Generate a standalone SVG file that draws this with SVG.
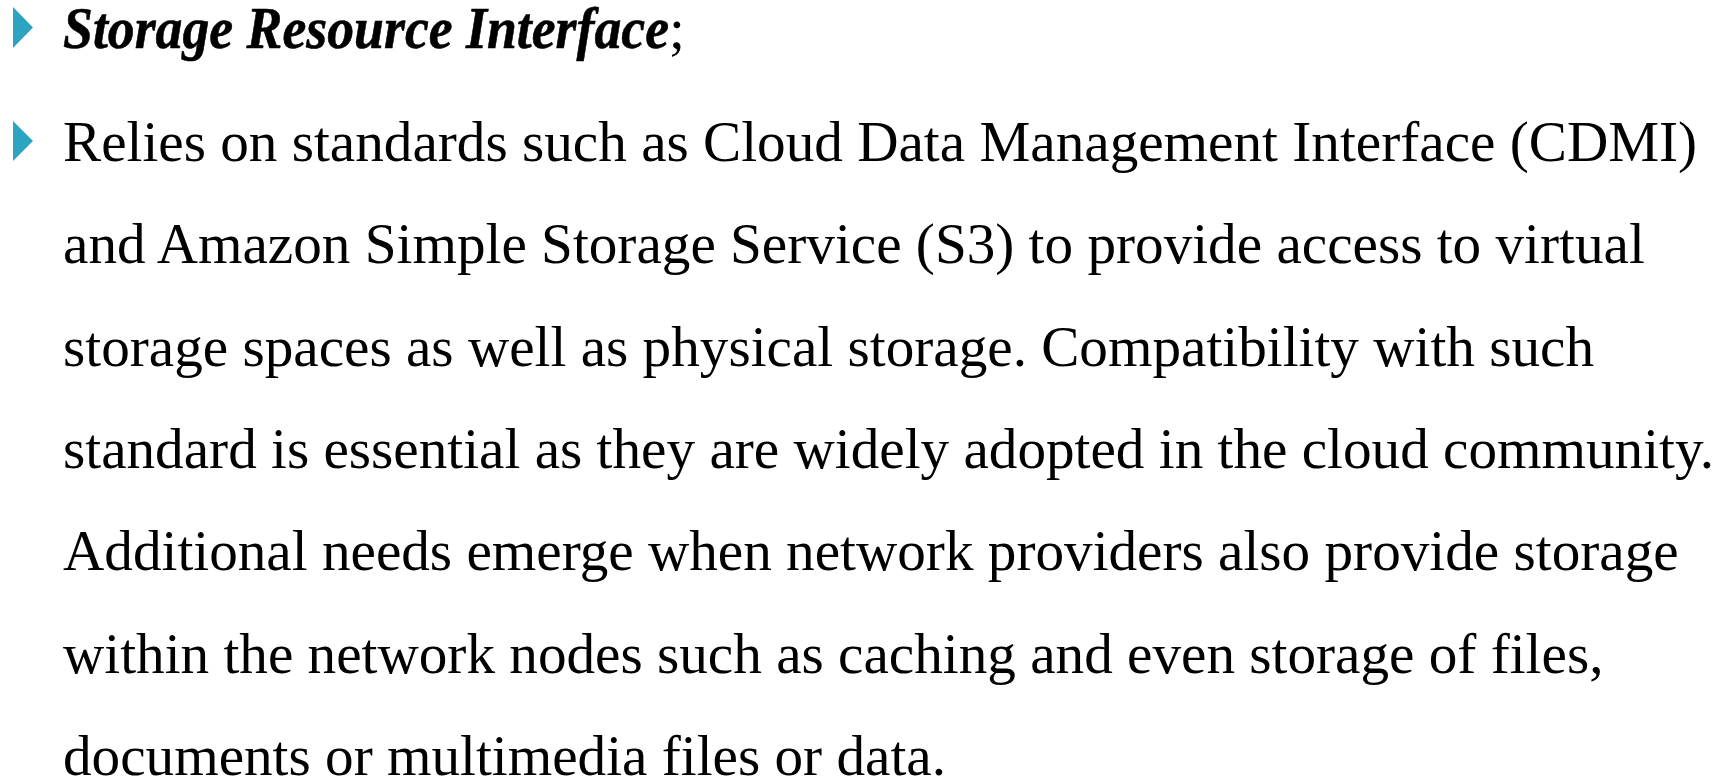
<svg xmlns="http://www.w3.org/2000/svg" width="1734" height="780" viewBox="0 0 1734 780">
  <style>
    .bullet { fill: #2ca3c1; }
    .body { font-family: "Liberation Serif", "Times New Roman", serif; font-size: 57.2px; fill: #000000; }
    .title { font-family: "Liberation Serif", "Times New Roman", serif; font-size: 60px; font-weight: bold; font-style: italic; fill: #000000; stroke: #000000; stroke-width: 0.6px; }
  </style>
  <rect width="1734" height="780" fill="#ffffff"/>

  <!-- first bullet: heading -->
  <g id="item-heading">
    <polygon class="bullet" points="13,7 33,27.5 13,48"/>
    <text class="title" x="63" y="48" textLength="606" lengthAdjust="spacingAndGlyphs">Storage Resource Interface</text>
    <text class="body" x="669" y="48">;</text>
  </g>

  <!-- second bullet: description paragraph -->
  <g id="item-description">
    <polygon class="bullet" points="13,121 33,141 13,161"/>
    <text class="body" x="63" y="161">Relies on standards such as Cloud Data Management Interface (CDMI)</text>
    <text class="body" x="63" y="263">and Amazon Simple Storage Service (S3) to provide access to virtual</text>
    <text class="body" x="63" y="366">storage spaces as well as physical storage. Compatibility with such</text>
    <text class="body" x="63" y="468">standard is essential as they are widely adopted in the cloud community.</text>
    <text class="body" x="63" y="570">Additional needs emerge when network providers also provide storage</text>
    <text class="body" x="63" y="673">within the network nodes such as caching and even storage of files,</text>
    <text class="body" x="63" y="775">documents or multimedia files or data.</text>
  </g>
</svg>
